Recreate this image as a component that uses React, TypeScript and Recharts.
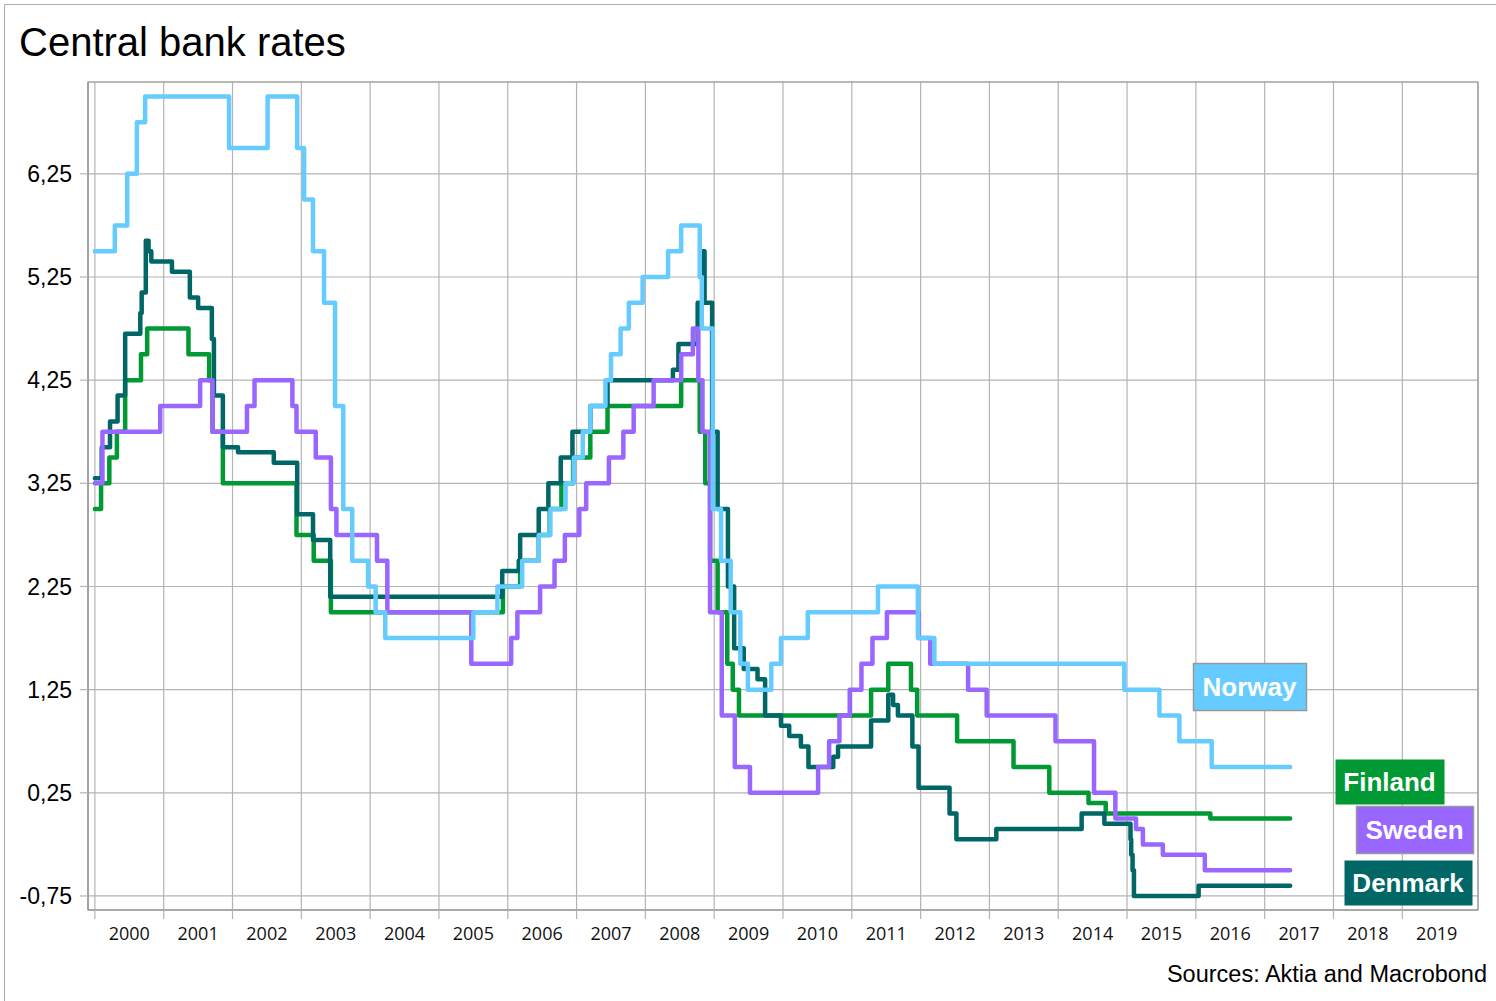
import { LineChart, Line, XAxis, YAxis, CartesianGrid, ReferenceArea } from "recharts"

const years = [2000, 2001, 2002, 2003, 2004, 2005, 2006, 2007, 2008, 2009, 2010, 2011, 2012, 2013, 2014, 2015, 2016, 2017, 2018, 2019]
const rateTicks = [-0.75, 0.25, 1.25, 2.25, 3.25, 4.25, 5.25, 6.25]

// change dates (decimal years) and the rate that applies from that date
const norwayDates = [2000.0, 2000.29, 2000.47, 2000.61, 2000.73, 2001.95, 2002.51, 2002.94, 2003.04, 2003.17, 2003.33, 2003.49, 2003.61, 2003.74, 2003.97, 2004.08, 2004.22, 2005.5, 2005.85, 2006.21, 2006.45, 2006.62, 2006.84, 2006.96, 2007.09, 2007.2, 2007.42, 2007.5, 2007.64, 2007.76, 2007.96, 2008.33, 2008.52, 2008.79, 2008.82, 2008.98, 2009.1, 2009.24, 2009.38, 2009.49, 2009.83, 2009.97, 2010.36, 2011.38, 2011.96, 2012.2, 2014.96, 2015.47, 2015.76, 2016.23, 2017.37]
const norwayRates = [5.5, 5.75, 6.25, 6.75, 7.0, 6.5, 7.0, 6.5, 6.0, 5.5, 5.0, 4.0, 3.0, 2.5, 2.25, 2.0, 1.75, 2.0, 2.25, 2.5, 2.75, 3.0, 3.25, 3.5, 3.75, 4.0, 4.25, 4.5, 4.75, 5.0, 5.25, 5.5, 5.75, 5.25, 4.75, 3.0, 2.5, 2.0, 1.5, 1.25, 1.5, 1.75, 2.0, 2.25, 1.75, 1.5, 1.25, 1.0, 0.75, 0.5, 0.5]

const finlandDates = [2000.0, 2000.09, 2000.21, 2000.32, 2000.44, 2000.67, 2000.76, 2001.36, 2001.66, 2001.71, 2001.86, 2002.93, 2003.18, 2003.43, 2005.93, 2006.18, 2006.45, 2006.61, 2006.78, 2006.95, 2007.2, 2007.45, 2008.52, 2008.79, 2008.87, 2008.94, 2009.05, 2009.19, 2009.27, 2009.36, 2011.28, 2011.53, 2011.86, 2011.95, 2012.53, 2013.35, 2013.87, 2014.44, 2014.69, 2016.21, 2017.37]
const finlandRates = [3.0, 3.25, 3.5, 3.75, 4.25, 4.5, 4.75, 4.5, 4.25, 3.75, 3.25, 2.75, 2.5, 2.0, 2.25, 2.5, 2.75, 3.0, 3.25, 3.5, 3.75, 4.0, 4.25, 3.75, 3.25, 2.5, 2.0, 1.5, 1.25, 1.0, 1.25, 1.5, 1.25, 1.0, 0.75, 0.5, 0.25, 0.15, 0.05, 0.0, 0.0]

const swedenDates = [2000.0, 2000.11, 2000.95, 2001.53, 2001.71, 2002.21, 2002.32, 2002.87, 2002.93, 2003.21, 2003.43, 2003.51, 2004.1, 2004.25, 2005.47, 2006.05, 2006.14, 2006.47, 2006.68, 2006.83, 2007.04, 2007.14, 2007.47, 2007.68, 2007.83, 2008.12, 2008.52, 2008.69, 2008.77, 2008.83, 2008.94, 2009.11, 2009.3, 2009.52, 2010.51, 2010.67, 2010.82, 2010.97, 2011.14, 2011.3, 2011.51, 2011.97, 2012.14, 2012.69, 2012.96, 2013.96, 2014.52, 2014.83, 2015.13, 2015.23, 2015.52, 2016.13, 2017.37]
const swedenRates = [3.25, 3.75, 4.0, 4.25, 3.75, 4.0, 4.25, 4.0, 3.75, 3.5, 3.0, 2.75, 2.5, 2.0, 1.5, 1.75, 2.0, 2.25, 2.5, 2.75, 3.0, 3.25, 3.5, 3.75, 4.0, 4.25, 4.5, 4.75, 4.25, 3.75, 2.0, 1.0, 0.5, 0.25, 0.5, 0.75, 1.0, 1.25, 1.5, 1.75, 2.0, 1.75, 1.5, 1.25, 1.0, 0.75, 0.25, 0.0, -0.1, -0.25, -0.35, -0.5, -0.5]

const denmarkDates = [2000.0, 2000.1, 2000.22, 2000.33, 2000.44, 2000.66, 2000.68, 2000.74, 2000.78, 2000.82, 2001.12, 2001.38, 2001.5, 2001.7, 2001.73, 2001.86, 2002.08, 2002.6, 2002.94, 2003.17, 2003.42, 2005.92, 2006.16, 2006.18, 2006.45, 2006.59, 2006.77, 2006.94, 2007.2, 2007.45, 2008.4, 2008.48, 2008.76, 2008.84, 2008.86, 2008.97, 2009.05, 2009.2, 2009.29, 2009.43, 2009.63, 2009.74, 2009.97, 2010.09, 2010.26, 2010.37, 2010.73, 2010.8, 2011.28, 2011.53, 2011.6, 2011.67, 2011.88, 2011.97, 2012.42, 2012.52, 2013.1, 2014.34, 2014.67, 2015.05, 2015.06, 2015.08, 2015.1, 2016.04, 2017.37]
const denmarkRates = [3.3, 3.6, 3.85, 4.1, 4.7, 4.9, 5.1, 5.6, 5.5, 5.4, 5.3, 5.05, 4.95, 4.65, 4.1, 3.6, 3.55, 3.45, 2.95, 2.7, 2.15, 2.4, 2.5, 2.75, 3.0, 3.25, 3.5, 3.75, 4.0, 4.25, 4.35, 4.6, 5.0, 5.5, 5.0, 3.75, 3.0, 2.25, 1.65, 1.45, 1.35, 1.0, 0.9, 0.8, 0.7, 0.5, 0.6, 0.7, 0.95, 1.2, 1.1, 1.0, 0.7, 0.3, 0.05, -0.2, -0.1, 0.05, -0.05, -0.2, -0.35, -0.5, -0.75, -0.65, -0.65]

const toSeries = (dates: number[], rates: number[]) => dates.map((t, i) => ({ t, v: rates[i] }))

const series = [
  { name: "Finland", color: "#009933", data: toSeries(finlandDates, finlandRates) },
  { name: "Denmark", color: "#006666", data: toSeries(denmarkDates, denmarkRates) },
  { name: "Sweden", color: "#9966ff", data: toSeries(swedenDates, swedenRates) },
  { name: "Norway", color: "#66ccff", data: toSeries(norwayDates, norwayRates) },
]

const labels = [
  { name: "Norway", color: "#66ccff", x: 1193, y: 663, w: 113, h: 47, border: "#999999" },
  { name: "Finland", color: "#009933", x: 1335, y: 759, w: 109, h: 45, border: "none" },
  { name: "Sweden", color: "#9966ff", x: 1356, y: 806, w: 117, h: 47, border: "#999999" },
  { name: "Denmark", color: "#006666", x: 1344, y: 860, w: 128, h: 45, border: "none" },
]

const gridColor = "#b4b4b4"

function YearTick({ x, y, payload }: any) {
  return (
    <text x={x + 34.4} y={y + 19} textAnchor="middle" fontFamily="Open Sans" fontSize={18} fill="#111">
      {payload.value}
    </text>
  )
}

export default function App() {
  return (
    <div style={{ position: "absolute", left: 0, top: 0, width: 1496, height: 1001, overflow: "hidden", background: "#fff" }}>
      <LineChart width={1496} height={1001} margin={{ top: 82, right: 18, bottom: 51, left: 8 }}>
        <CartesianGrid stroke={gridColor} strokeWidth={1.2} />
        <XAxis
          dataKey="t"
          type="number"
          domain={[1999.9, 2020.1]}
          ticks={years}
          allowDataOverflow
          height={40}
          tickSize={9}
          tickMargin={2}
          tick={YearTick}
          tickLine={{ stroke: gridColor, strokeWidth: 1.2 }}
          axisLine={{ stroke: "#999", strokeWidth: 1.2 }}
        />
        <YAxis
          type="number"
          domain={[-0.886, 7.14]}
          ticks={rateTicks}
          allowDataOverflow
          width={80}
          tickSize={8}
          tickMargin={8}
          tickFormatter={(v: number) => v.toFixed(2).replace(".", ",")}
          tick={{ fill: "#000", fontSize: 23, fontFamily: "Liberation Sans" }}
          tickLine={{ stroke: gridColor, strokeWidth: 1.2 }}
          axisLine={{ stroke: "#999", strokeWidth: 1.2 }}
        />
        <ReferenceArea x1={1999.9} x2={2020.1} y1={-0.886} y2={7.14} fill="none" stroke="#999" strokeWidth={1.2} />
        {series.map((s) => (
          <Line
            key={s.name}
            data={s.data}
            dataKey="v"
            name={s.name}
            type="stepAfter"
            stroke={s.color}
            strokeWidth={4.5}
            strokeLinejoin="round"
            strokeLinecap="round"
            dot={false}
            activeDot={false}
            isAnimationActive={false}
          />
        ))}
      </LineChart>
      <svg width={1496} height={1001} style={{ position: "absolute", left: 0, top: 0, pointerEvents: "none" }}>
        <line x1={4.5} y1={4.5} x2={1496} y2={4.5} stroke="#aaa" />
        <line x1={4.5} y1={4.5} x2={4.5} y2={1001} stroke="#aaa" />
        <text x={19} y={56} fontFamily="Liberation Sans" fontSize={40} fill="#000">
          Central bank rates
        </text>
        <text x={1487} y={982} textAnchor="end" fontFamily="Liberation Sans" fontSize={23.5} fill="#000">
          Sources: Aktia and Macrobond
        </text>
        {labels.map((l) => (
          <g key={l.name}>
            <rect x={l.x + 0.5} y={l.y + 0.5} width={l.w} height={l.h} fill={l.color} stroke={l.border} strokeWidth={1.5} />
            <text
              x={l.x + l.w / 2}
              y={l.y + l.h / 2 + 9.5}
              textAnchor="middle"
              fontFamily="Liberation Sans"
              fontWeight="bold"
              fontSize={26}
              fill="#fff"
            >
              {l.name}
            </text>
          </g>
        ))}
      </svg>
    </div>
  )
}
